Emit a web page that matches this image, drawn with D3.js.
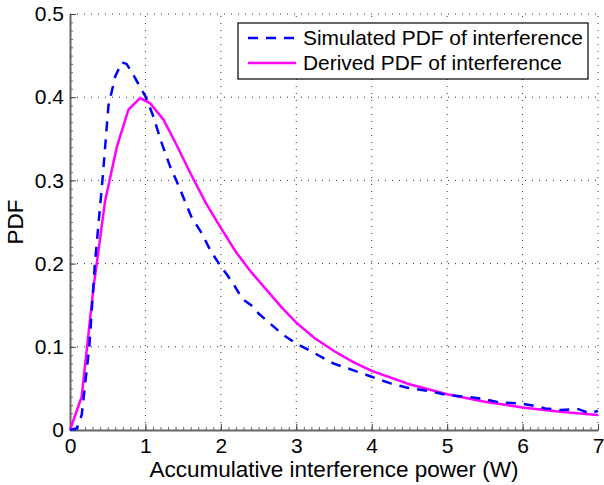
<!DOCTYPE html>
<html>
<head>
<meta charset="utf-8">
<script src="https://cdn.jsdelivr.net/npm/d3@7"></script>
<style>
  body { margin: 0; background: #fff; }
  svg { font-family: "Liberation Sans", Arial, sans-serif; }
</style>
</head>
<body>
<div id="chart"></div>
<script>
// simulated pdf (blue dashed)
var simX = [0, 0.09, 0.155, 0.256, 0.33, 0.43, 0.51, 0.6, 0.685, 0.75, 0.82, 0.93, 1.0, 1.1, 1.215, 1.33, 1.41, 1.61, 1.75, 1.86, 1.99, 2.165, 2.28, 2.43, 2.5, 2.83, 3.0, 3.25, 3.49, 3.75, 4.0, 4.25, 4.46, 4.75, 5.0, 5.25, 5.5, 5.7, 5.98, 6.15, 6.3, 6.5, 6.74, 6.89, 7.0];
var simY = [0, 0.002, 0.018, 0.1, 0.2, 0.3, 0.39, 0.425, 0.442, 0.44, 0.43, 0.412, 0.401, 0.378, 0.345, 0.316, 0.3, 0.256, 0.236, 0.216, 0.198, 0.176, 0.158, 0.148, 0.14, 0.114, 0.104, 0.092, 0.08, 0.072, 0.064, 0.056, 0.051, 0.047, 0.042, 0.04, 0.037, 0.033, 0.032, 0.029, 0.026, 0.024, 0.025, 0.02, 0.023];

// derived pdf (magenta)
var derX = [0, 0.155, 0.31, 0.465, 0.62, 0.775, 0.93, 1.06, 1.24, 1.4, 1.6, 1.8, 2.0, 2.2, 2.4, 2.6, 2.8, 3.0, 3.25, 3.5, 3.75, 4.0, 4.5, 5.0, 5.5, 6.0, 6.5, 7.0];
var derY = [0, 0.04, 0.17, 0.275, 0.34, 0.385, 0.399, 0.393, 0.373, 0.345, 0.308, 0.273, 0.243, 0.214, 0.19, 0.169, 0.148, 0.129, 0.11, 0.095, 0.082, 0.071, 0.055, 0.043, 0.034, 0.027, 0.022, 0.018];

var xTicks = [0, 1, 2, 3, 4, 5, 6, 7];
var yTicks = [0, 0.1, 0.2, 0.3, 0.4, 0.5];
var legendLabels = ['Simulated PDF of interference', 'Derived PDF of interference'];

var width = 604, height = 485;
var padding = {top: 14, right: 6, bottom: 55, left: 70};

var svg = d3.select('#chart').append('svg')
    .attr('width', width)
    .attr('height', height);

var xScale = d3.scaleLinear()
    .domain([0, 7])
    .range([padding.left, width - padding.right]);

var yScale = d3.scaleLinear()
    .domain([0, 0.5])
    .range([height - padding.bottom, padding.top]);

var x0 = xScale(0), x1 = xScale(7), y0 = yScale(0), y1 = yScale(0.5);

// dotted grid
var grid = svg.append('g').attr('stroke', '#333').attr('stroke-width', 1).attr('stroke-dasharray', '1,6');
grid.selectAll('.gx').data(xTicks.slice(1)).enter().append('line')
    .attr('x1', d => xScale(d)).attr('x2', d => xScale(d))
    .attr('y1', y0).attr('y2', y1);
grid.selectAll('.gy').data(yTicks.slice(1)).enter().append('line')
    .attr('y1', d => yScale(d)).attr('y2', d => yScale(d))
    .attr('x1', x0).attr('x2', x1);

// minor ticks
var minorX = d3.range(0, 70.5).map(d => d / 10);
var minorY = d3.range(0, 50.5).map(d => d / 100);

svg.append('g')
    .attr('transform', `translate(0,${y0})`)
    .call(d3.axisBottom(xScale).tickValues(minorX).tickSize(-3).tickFormat(''))
    .call(g => g.select('.domain').remove())
    .selectAll('line').attr('stroke', '#666');

svg.append('g')
    .attr('transform', `translate(${x0},0)`)
    .call(d3.axisLeft(yScale).tickValues(minorY).tickSize(-3).tickFormat(''))
    .call(g => g.select('.domain').remove())
    .selectAll('line').attr('stroke', '#666');

// major axes
var xAxis = svg.append('g')
    .attr('transform', `translate(0,${y0})`)
    .call(d3.axisBottom(xScale).tickValues(xTicks).tickSizeInner(-6).tickSizeOuter(0).tickPadding(8).tickFormat(d3.format('d')));
xAxis.select('.domain').attr('stroke', '#666').attr('stroke-width', 2);
xAxis.selectAll('.tick line').attr('stroke', '#444');
xAxis.selectAll('text').attr('font-size', 21).attr('fill', '#000');

var yAxis = svg.append('g')
    .attr('transform', `translate(${x0},0)`)
    .call(d3.axisLeft(yScale).tickValues(yTicks).tickSizeInner(-6).tickSizeOuter(0).tickPadding(6).tickFormat(d => d === 0 ? '0' : d3.format('.1f')(d)));
yAxis.select('.domain').attr('stroke', '#666').attr('stroke-width', 2);
yAxis.selectAll('.tick line').attr('stroke', '#444');
yAxis.selectAll('text').attr('font-size', 21).attr('fill', '#000');

// curves
var simData = simX.map((x, i) => ({x: x, y: simY[i]}));
var derData = derX.map((x, i) => ({x: x, y: derY[i]}));

var line = d3.line()
    .x(d => xScale(d.x))
    .y(d => yScale(d.y));

svg.append('path')
    .attr('d', line(derData))
    .attr('fill', 'none')
    .attr('stroke', '#ff00ff')
    .attr('stroke-width', 2.5);

svg.append('path')
    .attr('d', line(simData))
    .attr('fill', 'none')
    .attr('stroke', '#0000ff')
    .attr('stroke-width', 2.5)
    .attr('stroke-dasharray', '10,8');

// axis titles
svg.append('text')
    .attr('x', (x0 + x1) / 2)
    .attr('y', 477)
    .attr('text-anchor', 'middle')
    .attr('font-size', 22.5)
    .text('Accumulative interference power (W)');

svg.append('text')
    .attr('transform', `translate(23,${(y0 + y1) / 2}) rotate(-90)`)
    .attr('text-anchor', 'middle')
    .attr('font-size', 22.5)
    .text('PDF');

// legend
var legend = svg.append('g').attr('transform', 'translate(238,23)');
legend.append('rect')
    .attr('width', 350).attr('height', 56)
    .attr('fill', '#fff').attr('stroke', '#000').attr('stroke-width', 1.2);

var legendStyles = [
    {color: '#0000ff', dash: '10,8'},
    {color: '#ff00ff', dash: null}
];
legendLabels.forEach((label, i) => {
    var yy = 15 + i * 25;
    legend.append('line')
        .attr('x1', 10).attr('x2', 58)
        .attr('y1', yy).attr('y2', yy)
        .attr('stroke', legendStyles[i].color)
        .attr('stroke-width', 2.5)
        .attr('stroke-dasharray', legendStyles[i].dash);
    legend.append('text')
        .attr('x', 65).attr('y', yy + 7)
        .attr('font-size', 20.9)
        .text(label);
});
</script>
</body>
</html>
